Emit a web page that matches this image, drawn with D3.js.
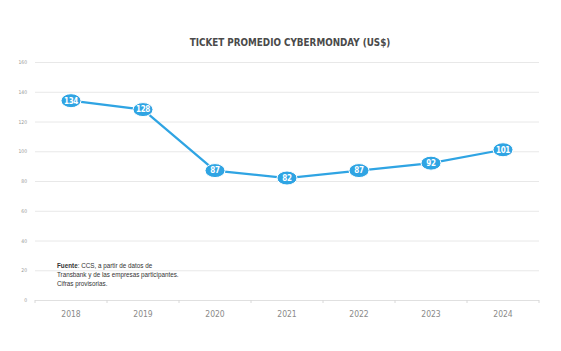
<!DOCTYPE html>
<html><head><meta charset="utf-8">
<script src="https://cdn.jsdelivr.net/npm/d3@7"></script>
<style>body{margin:0;background:#fff}svg{display:block}</style>
</head><body>
<svg id="c" width="561" height="351"></svg>
<script>
const years = ["2018","2019","2020","2021","2022","2023","2024"];
const values = [134,128,87,82,87,92,101];
const yTicks = [0,20,40,60,80,100,120,140,160];
const title = "TICKET PROMEDIO CYBERMONDAY (US$)";
const noteLines = [["Fuente", ": CCS, a partir de datos de"],["","Transbank y de las empresas participantes."],["","Cifras provisorias."]];

const svg = d3.select("#c");
const W=561,H=351;
const m={l:35,r:22,t:62,b:51};
const x = d3.scaleBand().domain(years).range([m.l, W-m.r]).padding(0);
const y = d3.scaleLinear().domain([0,160]).range([H-m.b, m.t]);
const blue="#2fa4e3";
const condensed="'DejaVu Sans Condensed','DejaVu Sans',sans-serif";

svg.append("text").attr("x",290).attr("y",46).attr("text-anchor","middle")
  .attr("font-family",condensed).attr("font-weight","bold").attr("font-size",9.8)
  .attr("fill","#4a4a4a").text(title);

// grid
const gy = svg.append("g").attr("transform",`translate(${m.l},0)`)
  .call(d3.axisLeft(y).tickValues(yTicks).tickSize(-(W-m.l-m.r)).tickPadding(8).tickFormat(d3.format("d")));
gy.select(".domain").remove();
gy.selectAll(".tick line").attr("stroke","#e8e8e8").attr("stroke-width",1);
gy.selectAll(".tick text").attr("font-family",condensed).attr("font-size",5).attr("fill","#999");

// x axis
const gx = svg.append("g").attr("transform",`translate(0,${y(0)})`)
  .call(d3.axisBottom(x).tickSize(0).tickPadding(11));
gx.select(".domain").attr("stroke","#d8d8d8").attr("stroke-dasharray","1,1");
gx.selectAll(".tick text").attr("font-family",condensed).attr("font-size",8.5).attr("fill","#8a8a8a");
const bounds = years.map(d=>x(d)).concat([x(years[years.length-1])+x.bandwidth()]);
gx.selectAll(".bt").data(bounds).enter().append("line").attr("class","bt")
  .attr("x1",d=>d).attr("x2",d=>d).attr("y1",0).attr("y2",3).attr("stroke","#d8d8d8");

// note
const note = svg.append("g").attr("font-family","'Liberation Sans',sans-serif").attr("font-size",6.3).attr("fill","#333");
noteLines.forEach((l,i)=>{
  const t = note.append("text").attr("x",57).attr("y",268+i*9);
  if(l[0]) t.append("tspan").attr("font-weight","bold").text(l[0]);
  t.append("tspan").text(l[1]);
});

// line
const cx = d=>x(d)+x.bandwidth()/2;
svg.append("path").datum(values)
  .attr("d", d3.line().x((d,i)=>cx(years[i])).y(d=>y(d)))
  .attr("fill","none").attr("stroke",blue).attr("stroke-width",2.2);

const pts = svg.selectAll(".p").data(values).enter().append("g")
  .attr("transform",(d,i)=>`translate(${cx(years[i])},${y(d)})`);
pts.append("ellipse").attr("rx",10).attr("ry",7).attr("fill",blue).attr("stroke","#fff").attr("stroke-width",1);
pts.append("text").attr("text-anchor","middle").attr("dy","0.36em")
  .attr("font-family",condensed).attr("font-weight","bold").attr("font-size",8).attr("fill","#fff")
  .attr("letter-spacing",-0.3)
  .text(d=>d);
</script>
</body></html>
